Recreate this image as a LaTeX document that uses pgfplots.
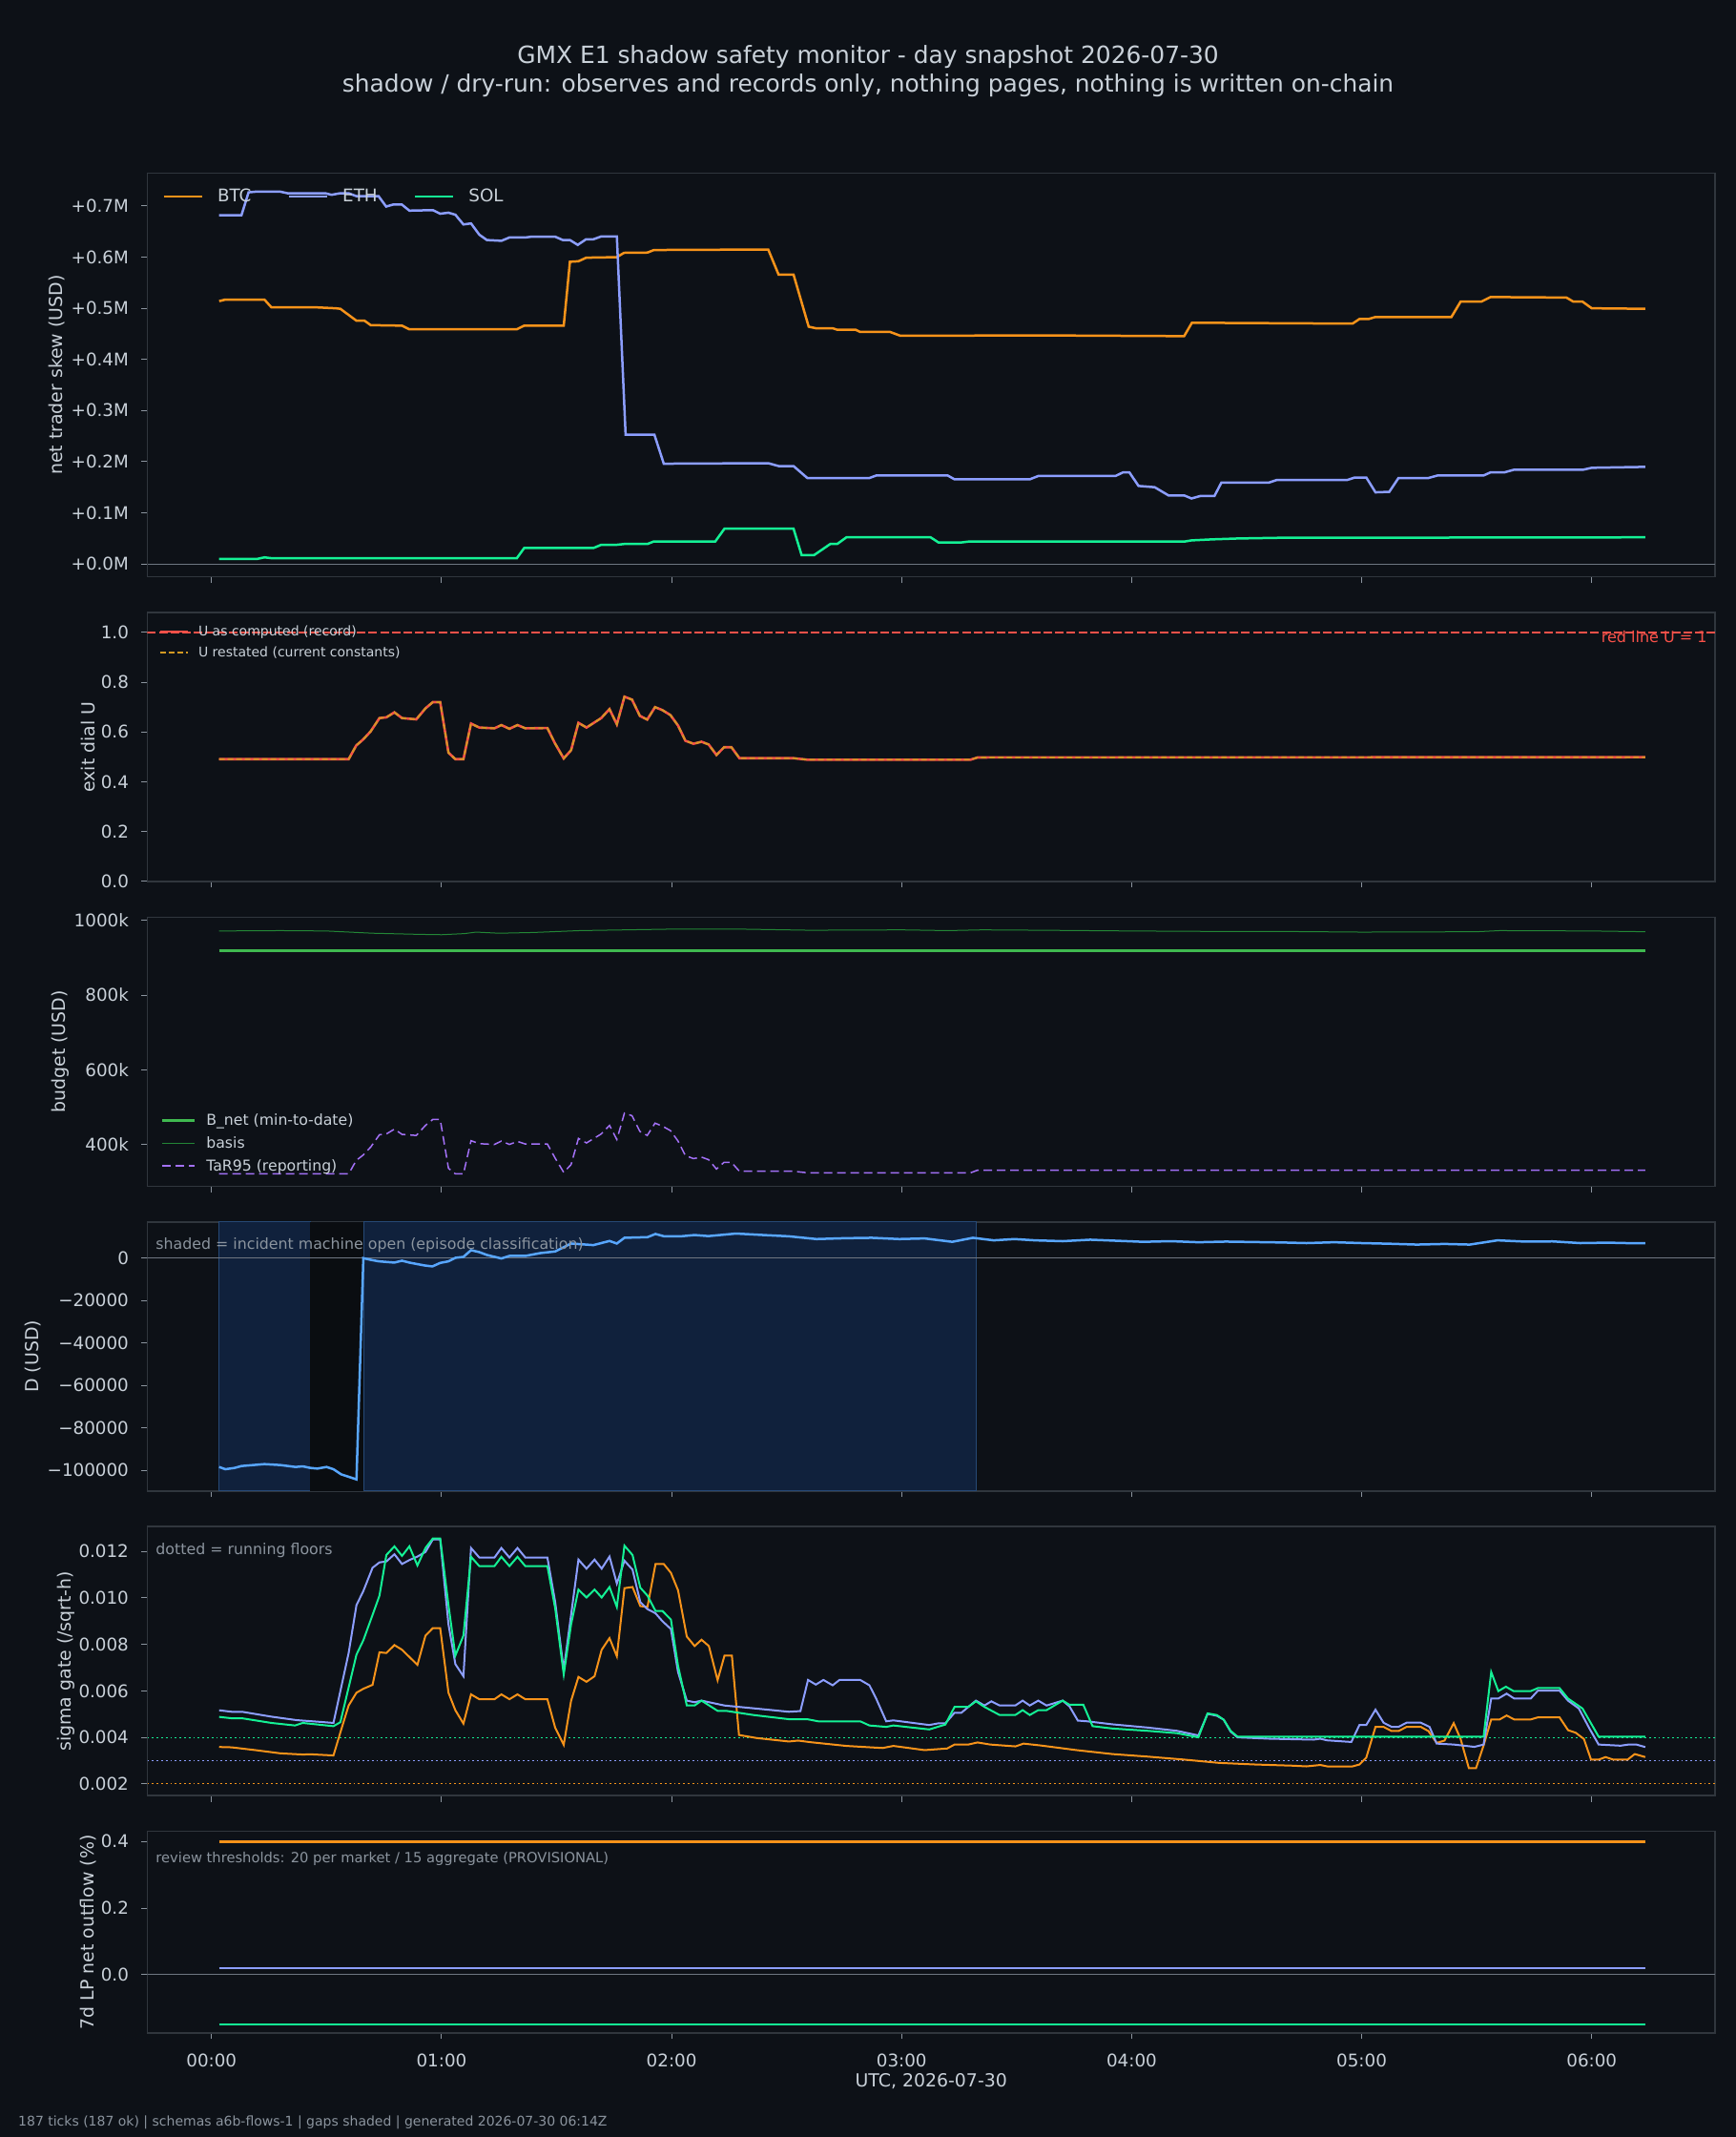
\documentclass[border=0pt]{standalone}
\usepackage{pgfplots}
\pgfplotsset{compat=1.18}
\usepackage{pgfplotstable}
\usepackage{fontspec}
\setmainfont{DejaVu Sans}

\definecolor{bg}{HTML}{0D1117}
\definecolor{spine}{HTML}{30363D}
\definecolor{txt}{HTML}{C9D1D9}
\definecolor{muted}{HTML}{8B949E}
\definecolor{tickc}{HTML}{8B949E}
\definecolor{zero}{HTML}{6E7681}
\definecolor{btc}{HTML}{F7931A}
\definecolor{eth}{HTML}{8C9EFF}
\definecolor{sol}{HTML}{14F195}
\definecolor{dline}{HTML}{58A6FF}
\definecolor{shade}{HTML}{10213C}
\definecolor{gapc}{HTML}{0A0D11}
\definecolor{bnet}{HTML}{3FB950}
\definecolor{basis}{HTML}{238636}
\definecolor{tar}{HTML}{A371F7}
\definecolor{ured}{HTML}{F85149}
\definecolor{uorg}{HTML}{D29922}

\pgfplotstableread{
x y
0.033 0.491
0.596 0.491
0.629 0.546
0.66 0.571
0.692 0.603
0.73 0.656
0.76 0.659
0.795 0.679
0.828 0.656
0.89 0.651
0.93 0.695
0.962 0.720
0.994 0.720
1.03 0.517
1.06 0.491
1.095 0.491
1.128 0.634
1.164 0.618
1.23 0.615
1.26 0.628
1.295 0.613
1.33 0.628
1.364 0.615
1.46 0.616
1.494 0.553
1.531 0.494
1.563 0.527
1.595 0.637
1.63 0.618
1.694 0.656
1.73 0.692
1.762 0.631
1.795 0.742
1.828 0.730
1.862 0.665
1.894 0.650
1.928 0.700
1.96 0.688
1.995 0.668
2.028 0.626
2.06 0.565
2.095 0.553
2.13 0.561
2.161 0.550
2.195 0.508
2.228 0.539
2.26 0.539
2.295 0.495
2.53 0.495
2.59 0.489
3.30 0.489
3.33 0.498
6.233 0.499
}\Udata

\newcommand{\tk}{\fontsize{9.15}{11}\selectfont}
\newcommand{\lb}{\fontsize{9.45}{11}\selectfont}
\newcommand{\sm}{\fontsize{7.9}{9.4}\selectfont}

\pgfplotsset{
  dk/.style={
    scale only axis, width=821.75pt,
    xmin=-0.279, xmax=6.536,
    axis background/.style={fill=bg},
    axis line style={spine, line width=0.75pt},
    tick align=outside, major tick length=3.2pt,
    every tick/.style={tickc, line width=0.5pt},
    xtick={0,1,2,3,4,5,6}, xticklabels={},
    xtick pos=bottom, ytick pos=left,
    every tick label/.append style={font=\tk, text=txt},
    yticklabel style={inner sep=0pt, anchor=east, xshift=-6.4pt},
    xticklabel style={inner sep=0pt, anchor=base, yshift=-14.45pt},
    ylabel style={font=\lb, text=txt, anchor=center},
    legend cell align=left,
    clip=true,
  },
}

\begin{document}
\begin{tikzpicture}[x=1pt,y=1pt]
\path[use as bounding box, fill=bg] (0,0) rectangle (910,1120);
\node[anchor=base, font=\fontsize{12.45}{15}\selectfont, text=txt] at (455,1086.65) {GMX E1 shadow safety monitor - day snapshot 2026-07-30};
\node[anchor=base, font=\fontsize{12.45}{15}\selectfont, text=txt] at (455,1071.65) {shadow / dry-run: observes and records only, nothing pages, nothing is written on-chain};
\node[anchor=base west, inner sep=0pt, font=\fontsize{7.0}{8.2}\selectfont, text=muted] at (9.4,5.5) {187 ticks (187 ok) | schemas a6b-flows-1 | gaps shaded | generated 2026-07-30 06:14Z};

% ---------- panel 1: skew
\begin{axis}[dk, at={(77.25pt,1029.15pt)}, anchor=north west, height=211.5pt,
  ymin=-0.0254, ymax=0.764,
  ytick={0,0.1,0.2,0.3,0.4,0.5,0.6,0.7},
  yticklabels={+0.0M,+0.1M,+0.2M,+0.3M,+0.4M,+0.5M,+0.6M,+0.7M},
  ylabel={net trader skew (USD)},
  ylabel style={at={(axis description cs:-0.0575,0.5)}},
  legend style={draw=none, fill=none, text=txt, font=\tk, inner sep=0pt,
    nodes={inner sep=0pt, text height=0.75em, text depth=0.25em},
    legend columns=3, at={(rel axis cs:0.0094,0.942)}, anchor=west,
    /tikz/every odd column/.append style={column sep=7.6pt},
    /tikz/every even column/.append style={column sep=19pt}},
  legend image code/.code={\draw[#1] (0pt,0pt) -- (20pt,0pt);},
]
\addplot[zero, line width=0.5pt, forget plot] coordinates {(-0.279,0) (6.536,0)};
\addplot[btc, line width=1.25pt] coordinates {
(0.033,0.514) (0.06,0.517) (0.23,0.517) (0.26,0.502) (0.448,0.502) (0.54,0.500) (0.56,0.499) (0.596,0.487) (0.629,0.476) (0.664,0.476) (0.692,0.467) (0.828,0.466) (0.859,0.459) (1.327,0.459) (1.359,0.466) (1.531,0.466) (1.558,0.591) (1.595,0.592) (1.629,0.599) (1.762,0.600) (1.793,0.6085) (1.895,0.609) (1.923,0.614) (2.42,0.615) (2.465,0.566) (2.53,0.566) (2.596,0.464) (2.627,0.461) (2.70,0.461) (2.72,0.458) (2.80,0.458) (2.82,0.4537) (2.95,0.4537) (2.995,0.4462) (3.6,0.447) (4.228,0.4455) (4.262,0.4717) (4.96,0.470) (4.99,0.479) (5.03,0.479) (5.06,0.483) (5.39,0.483) (5.43,0.513) (5.52,0.513) (5.56,0.522) (5.89,0.521) (5.92,0.513) (5.96,0.513) (6.0,0.500) (6.233,0.499)};
\addlegendentry{BTC}
\addplot[eth, line width=1.25pt] coordinates {
(0.033,0.682) (0.13,0.682) (0.161,0.7268) (0.19,0.728) (0.30,0.728) (0.331,0.725) (0.494,0.725) (0.522,0.722) (0.559,0.725) (0.596,0.725) (0.63,0.7193) (0.726,0.7193) (0.759,0.699) (0.79,0.703) (0.827,0.703) (0.86,0.691) (0.962,0.692) (0.994,0.685) (1.03,0.687) (1.06,0.683) (1.095,0.664) (1.128,0.666) (1.164,0.644) (1.197,0.6335) (1.26,0.632) (1.295,0.6385) (1.364,0.6385) (1.39,0.640) (1.494,0.640) (1.527,0.6335) (1.558,0.6335) (1.592,0.624) (1.628,0.635) (1.66,0.635) (1.694,0.6405) (1.762,0.6405) (1.80,0.2526) (1.925,0.253) (1.966,0.196) (2.42,0.197) (2.465,0.1914) (2.53,0.1914) (2.59,0.168) (2.86,0.168) (2.89,0.173) (3.20,0.173) (3.23,0.1654) (3.557,0.1654) (3.594,0.172) (3.93,0.172) (3.962,0.179) (3.99,0.179) (4.03,0.1525) (4.10,0.150) (4.16,0.134) (4.228,0.134) (4.26,0.128) (4.30,0.133) (4.36,0.133) (4.39,0.159) (4.596,0.159) (4.63,0.164) (4.936,0.164) (4.97,0.169) (5.02,0.169) (5.06,0.140) (5.12,0.141) (5.16,0.168) (5.29,0.168) (5.33,0.173) (5.53,0.173) (5.56,0.179) (5.62,0.179) (5.66,0.184) (5.96,0.184) (6.0,0.188) (6.233,0.1898)};
\addlegendentry{ETH}
\addplot[sol, line width=1.25pt] coordinates {
(0.033,0.0099) (0.2,0.0099) (0.23,0.0128) (0.263,0.011) (1.327,0.011) (1.359,0.031) (1.66,0.031) (1.694,0.0374) (1.762,0.0374) (1.793,0.0389) (1.895,0.0389) (1.923,0.044) (2.19,0.044) (2.23,0.069) (2.53,0.069) (2.565,0.0174) (2.62,0.0174) (2.69,0.039) (2.72,0.039) (2.76,0.052) (3.126,0.052) (3.16,0.042) (3.26,0.042) (3.29,0.0436) (4.228,0.0436) (4.26,0.046) (4.35,0.048) (4.46,0.0497) (4.63,0.051) (6.233,0.052)};
\addlegendentry{SOL}
\end{axis}

% ---------- panel 2: U
\begin{axis}[dk, at={(77.25pt,799pt)}, anchor=north west, height=141pt,
  ymin=0, ymax=1.08,
  ytick={0,0.2,0.4,0.6,0.8,1.0},
  yticklabels={0.0,0.2,0.4,0.6,0.8,1.0},
  ylabel={exit dial U},
  ylabel style={at={(axis description cs:-0.0378,0.5)}},
  legend style={draw=none, fill=none, text=txt, font=\fontsize{7.0}{8.4}\selectfont, inner sep=0pt,
    nodes={inner sep=0pt, text height=0.75em, text depth=0.25em}, row sep=0.85pt,
    at={(rel axis cs:0.007,0.966)}, anchor=north west,
    /tikz/every odd column/.append style={column sep=4.75pt}},
  legend image code/.code={\draw[#1] (0pt,0pt) -- (14.75pt,0pt);},
]
\addplot[ured, line width=0.8pt, dash pattern=on 4.5pt off 1.6pt, forget plot] coordinates {(-0.279,1) (6.536,1)};
\addplot[ured, line width=1.3pt] table {\Udata};
\addlegendentry{U as computed (record)}
\addplot[uorg, line width=0.9pt, dash pattern=on 2.9pt off 1.6pt] table {\Udata};
\addlegendentry{U restated (current constants)}
\node[anchor=base east, inner sep=0pt, font=\fontsize{8}{9.4}\selectfont, text=ured] at (rel axis cs:0.9951,0.8865) {red line U = 1};
\end{axis}

% ---------- panel 3: budget
\begin{axis}[dk, at={(77.25pt,639.3pt)}, anchor=north west, height=141pt,
  ymin=288, ymax=1009,
  ytick={400,600,800,1000},
  yticklabels={400k,600k,800k,1000k},
  ylabel={budget (USD)},
  ylabel style={at={(axis description cs:-0.0554,0.5)}},
  legend style={draw=none, fill=none, text=txt, font=\fontsize{7.85}{9.3}\selectfont, inner sep=0pt,
    nodes={inner sep=0pt, text height=0.75em, text depth=0.25em}, row sep=1.8pt,
    at={(rel axis cs:0.0082,0.28)}, anchor=north west,
    /tikz/every odd column/.append style={column sep=5.5pt}},
  legend image code/.code={\draw[#1] (0pt,0pt) -- (17pt,0pt);},
]
\addplot[bnet, line width=1.5pt] coordinates {(0.033,920) (6.233,920)};
\addlegendentry{B\_net (min-to-date)}
\addplot[basis, line width=0.5pt] coordinates {
(0.033,972) (0.3,973) (0.5,972) (0.6,969) (0.7,966) (0.9,963) (1.0,962) (1.1,965) (1.15,969) (1.25,966) (1.4,968) (1.6,973) (1.8,975) (2.0,977) (2.3,977) (2.6,974) (3.0,975) (3.2,973) (3.35,975) (3.6,974) (4.0,972) (4.3,971) (4.6,971) (5.0,969) (5.5,970) (5.6,973) (6.0,972) (6.233,970)};
\addlegendentry{basis}
\addplot[tar, line width=0.75pt, dash pattern=on 4.5pt off 2.5pt] coordinates {
(0.033,321) (0.596,321) (0.629,357) (0.66,372) (0.692,393) (0.73,426) (0.76,428) (0.795,441) (0.828,427) (0.89,424) (0.93,451) (0.962,467) (0.994,467) (1.03,336) (1.06,321) (1.095,321) (1.128,410) (1.164,402) (1.23,400) (1.26,409) (1.295,400) (1.33,408) (1.364,401) (1.46,401) (1.494,363) (1.531,325) (1.563,346) (1.595,416) (1.63,404) (1.694,428) (1.73,451) (1.762,413) (1.795,484) (1.828,477) (1.862,435) (1.894,424) (1.928,457) (1.96,449) (1.995,437) (2.028,409) (2.06,370) (2.095,362) (2.13,366) (2.161,359) (2.195,334) (2.228,352) (2.26,352) (2.295,328) (2.53,328) (2.59,324) (3.30,324) (3.33,331) (6.233,331)};
\addlegendentry{TaR95 (reporting)}
\end{axis}

% ---------- panel 4: D
\begin{axis}[dk, at={(77.25pt,479.6pt)}, anchor=north west, height=141pt,
  ymin=-109800, ymax=17100,
  ytick={-100000,-80000,-60000,-40000,-20000,0},
  yticklabels={−100000,−80000,−60000,−40000,−20000,0},
  scaled y ticks=false,
  ylabel={D (USD)},
  ylabel style={at={(axis description cs:-0.0731,0.5)}},
]
\addplot[fill=shade, draw=shade!70!dline, line width=0.4pt] coordinates {(0.03,-109800) (0.03,17100) (0.43,17100) (0.43,-109800)} -- cycle;
\addplot[fill=gapc, draw=none] coordinates {(0.43,-109800) (0.43,17100) (0.661,17100) (0.661,-109800)} -- cycle;
\addplot[fill=shade, draw=shade!70!dline, line width=0.4pt] coordinates {(0.661,-109800) (0.661,17100) (3.325,17100) (3.325,-109800)} -- cycle;
\addplot[zero, line width=0.5pt] coordinates {(-0.279,0) (6.536,0)};
\addplot[dline, line width=1.25pt] coordinates {
(0.033,-98500) (0.06,-99550) (0.1,-98950) (0.13,-98050) (0.23,-97150) (0.30,-97600) (0.365,-98500) (0.396,-98200) (0.43,-98950) (0.46,-99250) (0.5,-98500) (0.53,-99550) (0.563,-101950) (0.63,-104350) (0.66,0) (0.69,-750) (0.727,-1500) (0.795,-2100) (0.828,-1200) (0.86,-2100) (0.926,-3450) (0.96,-3900) (0.994,-2250) (1.03,-1500) (1.06,150) (1.095,600) (1.128,3750) (1.164,2850) (1.197,1500) (1.26,-150) (1.295,1050) (1.364,1050) (1.43,2400) (1.494,3150) (1.563,6900) (1.66,6150) (1.73,8100) (1.762,6900) (1.795,9600) (1.895,9900) (1.93,11400) (1.966,10350) (2.04,10300) (2.1,10900) (2.16,10400) (2.28,11600) (2.40,10900) (2.51,10300) (2.63,9000) (2.75,9400) (2.87,9600) (2.99,9000) (3.1,9300) (3.22,7700) (3.31,9600) (3.4,8400) (3.49,9000) (3.58,8400) (3.7,8000) (3.82,8700) (4.05,7700) (4.17,8000) (4.29,7500) (4.41,7800) (4.53,7600) (4.65,7400) (4.76,7100) (4.88,7500) (5.0,7100) (5.12,6800) (5.24,6400) (5.36,6700) (5.47,6400) (5.59,8400) (5.71,7800) (5.83,7900) (5.95,7100) (6.07,7300) (6.19,7000) (6.233,7100)};
\node[anchor=base west, inner sep=0pt, font=\sm, text=muted] at (rel axis cs:0.0052,0.899) {shaded = incident machine open (episode classification)};
\end{axis}

% ---------- panel 5: sigma gate
\begin{axis}[dk, at={(77.25pt,319.9pt)}, anchor=north west, height=141pt,
  ymin=1.49, ymax=13.07,
  ytick={2,4,6,8,10,12},
  yticklabels={0.002,0.004,0.006,0.008,0.010,0.012},
  ylabel={sigma gate (/sqrt-h)},
  ylabel style={at={(axis description cs:-0.0519,0.5)}},
]
\addplot[sol, line width=0.5pt, dash pattern=on 0.9pt off 1.5pt] coordinates {(-0.279,4.0) (6.536,4.0)};
\addplot[eth, line width=0.5pt, dash pattern=on 0.9pt off 1.5pt] coordinates {(-0.279,3.0) (6.536,3.0)};
\addplot[btc, line width=0.5pt, dash pattern=on 0.9pt off 1.5pt] coordinates {(-0.279,2.0) (6.536,2.0)};
\addplot[btc, line width=1pt] coordinates {
(0.033,3.585) (0.087,3.57) (0.19,3.45) (0.30,3.31) (0.396,3.26) (0.43,3.27) (0.53,3.22) (0.56,4.21) (0.596,5.37) (0.63,5.92) (0.66,6.09) (0.70,6.26) (0.73,7.66) (0.76,7.63) (0.795,7.97) (0.828,7.77) (0.895,7.12) (0.93,8.38) (0.962,8.70) (0.994,8.70) (1.03,5.92) (1.06,5.165) (1.095,4.59) (1.128,5.85) (1.164,5.64) (1.23,5.64) (1.26,5.85) (1.295,5.64) (1.33,5.85) (1.364,5.64) (1.46,5.64) (1.494,4.41) (1.531,3.68) (1.563,5.57) (1.595,6.60) (1.63,6.39) (1.665,6.63) (1.696,7.77) (1.73,8.27) (1.762,7.49) (1.795,10.42) (1.83,10.47) (1.864,9.65) (1.895,9.61) (1.93,11.46) (1.966,11.46) (1.997,11.08) (2.028,10.33) (2.066,8.34) (2.10,7.93) (2.13,8.2) (2.162,7.93) (2.20,6.46) (2.23,7.52) (2.262,7.52) (2.293,4.10) (2.37,3.97) (2.51,3.82) (2.55,3.86) (2.605,3.79) (2.76,3.63) (2.917,3.54) (2.964,3.63) (3.10,3.45) (3.198,3.52) (3.23,3.69) (3.29,3.69) (3.33,3.78) (3.385,3.69) (3.495,3.61) (3.53,3.73) (3.604,3.65) (3.76,3.45) (3.916,3.28) (4.07,3.17) (4.23,3.04) (4.38,2.90) (4.54,2.83) (4.70,2.78) (4.76,2.75) (4.82,2.81) (4.85,2.75) (4.96,2.75) (4.99,2.83) (5.02,3.13) (5.06,4.45) (5.095,4.45) (5.13,4.27) (5.16,4.27) (5.195,4.45) (5.257,4.45) (5.29,4.27) (5.326,3.76) (5.36,3.86) (5.40,4.61) (5.43,3.93) (5.466,2.67) (5.497,2.67) (5.53,3.65) (5.563,4.77) (5.60,4.77) (5.63,4.94) (5.663,4.77) (5.735,4.77) (5.766,4.86) (5.86,4.86) (5.897,4.31) (5.93,4.20) (5.966,3.93) (5.997,3.04) (6.03,3.04) (6.06,3.15) (6.094,3.04) (6.156,3.04) (6.187,3.28) (6.233,3.15)};
\addplot[eth, line width=1pt] coordinates {
(0.033,5.165) (0.087,5.10) (0.133,5.10) (0.26,4.89) (0.37,4.74) (0.48,4.66) (0.53,4.62) (0.596,7.63) (0.63,9.69) (0.66,10.3) (0.70,11.3) (0.73,11.53) (0.76,11.57) (0.795,11.88) (0.828,11.46) (0.86,11.63) (0.895,11.78) (0.93,11.98) (0.962,12.52) (0.994,12.52) (1.03,8.86) (1.06,7.15) (1.095,6.63) (1.128,12.15) (1.164,11.74) (1.23,11.74) (1.26,12.15) (1.295,11.74) (1.33,12.15) (1.364,11.74) (1.46,11.74) (1.494,9.82) (1.531,6.9) (1.563,9.27) (1.595,11.65) (1.63,11.26) (1.665,11.65) (1.696,11.26) (1.73,11.78) (1.762,10.62) (1.795,11.6) (1.83,11.22) (1.864,9.82) (1.895,9.52) (1.93,9.34) (1.96,9.0) (1.997,8.66) (2.028,6.81) (2.066,5.58) (2.10,5.51) (2.13,5.58) (2.23,5.37) (2.418,5.19) (2.51,5.1) (2.56,5.13) (2.593,6.47) (2.627,6.27) (2.66,6.47) (2.70,6.24) (2.73,6.47) (2.82,6.47) (2.86,6.24) (2.89,5.65) (2.933,4.69) (2.964,4.73) (3.12,4.53) (3.158,4.6) (3.19,4.6) (3.23,5.06) (3.26,5.06) (3.29,5.31) (3.323,5.58) (3.36,5.37) (3.39,5.55) (3.426,5.37) (3.494,5.37) (3.526,5.58) (3.557,5.37) (3.594,5.58) (3.63,5.37) (3.70,5.58) (3.73,5.33) (3.766,4.72) (3.806,4.69) (3.916,4.56) (4.07,4.42) (4.197,4.28) (4.29,4.08) (4.33,5.01) (4.37,4.93) (4.40,4.76) (4.43,4.25) (4.46,4.0) (4.60,3.94) (4.79,3.90) (4.82,3.94) (4.85,3.87) (4.955,3.8) (4.99,4.53) (5.02,4.53) (5.06,5.19) (5.095,4.63) (5.13,4.45) (5.16,4.45) (5.195,4.63) (5.257,4.63) (5.295,4.45) (5.326,3.73) (5.40,3.69) (5.49,3.59) (5.53,3.69) (5.563,5.67) (5.594,5.67) (5.63,5.88) (5.663,5.67) (5.735,5.67) (5.766,6.01) (5.86,6.01) (5.897,5.58) (5.944,5.24) (5.99,4.38) (6.03,3.69) (6.125,3.64) (6.16,3.69) (6.194,3.69) (6.233,3.58)};
\addplot[sol, line width=1pt] coordinates {
(0.033,4.88) (0.087,4.82) (0.133,4.82) (0.26,4.62) (0.363,4.51) (0.396,4.62) (0.53,4.48) (0.56,4.65) (0.63,7.56) (0.66,8.18) (0.70,9.27) (0.73,10.1) (0.76,11.85) (0.795,12.22) (0.828,11.81) (0.86,12.22) (0.895,11.4) (0.93,12.15) (0.962,12.56) (0.994,12.56) (1.03,9.69) (1.06,7.52) (1.095,8.38) (1.128,11.77) (1.164,11.37) (1.23,11.37) (1.26,11.77) (1.295,11.37) (1.33,11.77) (1.364,11.37) (1.46,11.37) (1.494,9.55) (1.531,6.71) (1.563,8.86) (1.595,10.36) (1.63,10.02) (1.665,10.36) (1.696,10.02) (1.73,10.47) (1.762,9.61) (1.795,12.25) (1.83,11.85) (1.864,10.44) (1.895,10.1) (1.93,9.44) (1.96,9.44) (1.997,9.07) (2.028,7.08) (2.066,5.37) (2.10,5.37) (2.13,5.58) (2.20,5.14) (2.237,5.14) (2.356,4.96) (2.51,4.78) (2.59,4.78) (2.637,4.69) (2.82,4.69) (2.86,4.51) (2.933,4.45) (2.964,4.51) (3.12,4.34) (3.19,4.55) (3.23,5.31) (3.29,5.31) (3.323,5.55) (3.36,5.31) (3.426,4.96) (3.494,4.96) (3.526,5.17) (3.557,4.96) (3.594,5.17) (3.63,5.17) (3.70,5.58) (3.73,5.40) (3.79,5.40) (3.83,4.48) (3.916,4.38) (4.07,4.28) (4.197,4.18) (4.29,4.0) (4.33,5.03) (4.37,4.96) (4.40,4.76) (4.43,4.28) (4.46,4.03) (5.53,4.03) (5.563,6.81) (5.594,5.99) (5.627,6.18) (5.66,5.99) (5.735,5.99) (5.766,6.12) (5.86,6.12) (5.897,5.67) (5.96,5.24) (6.03,4.03) (6.233,4.03)};
\node[anchor=base west, inner sep=0pt, font=\sm, text=muted] at (rel axis cs:0.0052,0.897) {dotted = running floors};
\end{axis}

% ---------- panel 6: LP outflow
\begin{axis}[dk, at={(77.25pt,160.2pt)}, anchor=north west, height=105.75pt,
  ymin=-0.176, ymax=0.4307,
  ytick={0,0.2,0.4},
  yticklabels={0.0,0.2,0.4},
  xticklabels={00:00,01:00,02:00,03:00,04:00,05:00,06:00},
  ylabel={7d LP net outflow (\%)},
  ylabel style={at={(axis description cs:-0.0378,0.5)}},
  xlabel={UTC, 2026-07-30},
  xlabel style={font=\lb, text=txt, anchor=base, at={(axis description cs:0.5,-0.2676)}},
]
\addplot[zero, line width=0.5pt] coordinates {(-0.279,0) (6.536,0)};
\addplot[btc, line width=1.25pt] coordinates {(0.033,0.40) (6.233,0.40)};
\addplot[eth, line width=1.25pt] coordinates {(0.033,0.02) (6.233,0.02)};
\addplot[sol, line width=1.25pt] coordinates {(0.033,-0.15) (6.233,-0.15)};
\node[anchor=base west, inner sep=0pt, font=\fontsize{7.35}{8.8}\selectfont, text=muted] at (rel axis cs:0.0052,0.845) {review thresholds: 20 per market / 15 aggregate (PROVISIONAL)};
\end{axis}
\end{tikzpicture}
\end{document}
